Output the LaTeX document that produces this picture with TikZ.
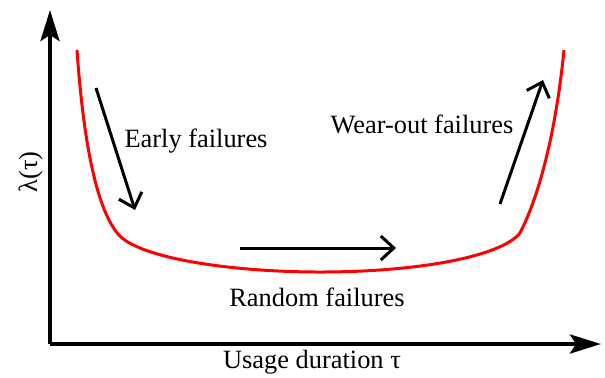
\documentclass[tikz,border=0pt]{standalone}
\usepackage{fontspec}
\setmainfont{Liberation Serif}
\usetikzlibrary{arrows.meta}

\begin{document}
\begin{tikzpicture}[x=0.5pt, y=-0.5pt,
    axis/.style={line width=2pt, -{Stealth[length=15.5pt, width=9.5pt, inset=3pt]}},
    curve/.style={line width=1.5pt, red},
    trend/.style={line width=1.5pt, -{Straight Barb[length=6.5pt, width=12pt, line width=1.5pt]}},
    label/.style={font=\rmfamily\fontsize{13.2}{15}\selectfont, inner sep=0pt, anchor=base}
  ]
    \useasboundingbox (0,0) rectangle (605,377);

    % Axes
    \coordinate (origin) at (50,344);
    \coordinate (ytip) at (50,10);
    \coordinate (xtip) at (601,344);
    \draw[axis] (origin) -- (ytip);
    \draw[axis] (origin) -- (xtip);

    \node[label, rotate=90] (ylab) at (37,172) {λ(τ)};
    \node[label] (xlab) at (312,368) {Usage duration τ};

    % Bathtub curve
    \draw[curve] (77,50) .. controls (84,150) and (98,210) .. (118,234)
                 .. controls (138,258) and (230,272) .. (320,272)
                 .. controls (420,272) and (502,256) .. (520,233)
                 .. controls (537,200) and (555,140) .. (564,50);

    % Phases
    \coordinate (early0) at (96,88);
    \coordinate (early1) at (135,210);
    \draw[trend] (early0) -- (early1);
    \node[label] (early) at (196,147) {Early failures};

    \coordinate (random0) at (240,248);
    \coordinate (random1) at (396,248);
    \draw[trend] (random0) -- (random1);
    \node[label] (random) at (317,306) {Random failures};

    \coordinate (wear0) at (500,204);
    \coordinate (wear1) at (543,80);
    \draw[trend] (wear0) -- (wear1);
    \node[label] (wear) at (422,133) {Wear-out failures};
  \end{tikzpicture}
\end{document}
